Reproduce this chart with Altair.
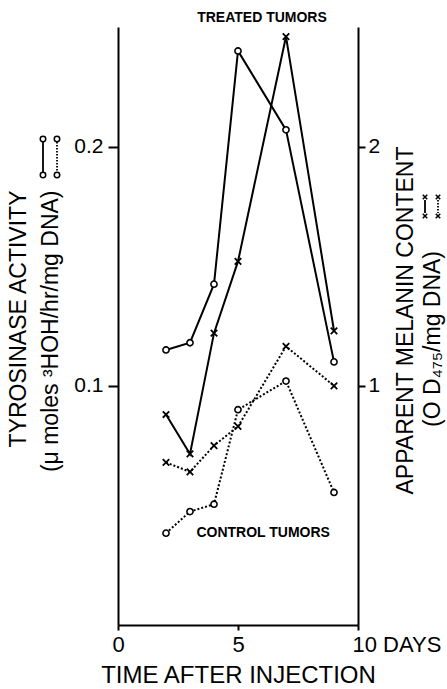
import altair as alt
import pandas as pd

days = [2, 3, 4, 5, 7, 9]
treated_tyrosinase = [0.115, 0.118, 0.1425, 0.240, 0.207, 0.110]
control_tyrosinase = [0.0384, 0.0474, 0.0505, 0.090, 0.102, 0.0554]
treated_melanin = [0.88, 0.715, 1.22, 1.52, 2.46, 1.23]
control_melanin = [0.68, 0.64, 0.75, 0.83, 1.165, 1.0]

x_ticks = [0, 5, 10]
left_ticks = [0.1, 0.2]
right_ticks = [1, 2]

annot_text = ["TREATED TUMORS", "CONTROL TUMORS"]
annot_day = [6.0, 6.05]
annot_val = [0.2536, 0.0385]

FONT = "Liberation Sans"
X_PATH = "M-1,-1L1,1M-1,1L1,-1"

tyr = pd.DataFrame({
    "day": days * 2,
    "value": treated_tyrosinase + control_tyrosinase,
    "group": ["Treated"] * len(days) + ["Control"] * len(days),
})
mel = pd.DataFrame({
    "day": days * 2,
    "value": treated_melanin + control_melanin,
    "group": ["Treated"] * len(days) + ["Control"] * len(days),
})
ann = pd.DataFrame({"day": annot_day, "value": annot_val, "text": annot_text})

xscale = alt.Scale(domain=[0, 10], nice=False)
x_main = alt.X(
    "day:Q", scale=xscale,
    axis=alt.Axis(
        values=x_ticks, title="TIME AFTER INJECTION",
        labelExpr="datum.value == 10 ? '10 DAYS' : datum.label",
        labelAlign={"condition": {"test": "datum.value == 10", "value": "left"}, "value": "center"},
        labelOffset={"condition": {"test": "datum.value == 10", "value": -6}, "value": 0},
        labelFlush=False, labelOverlap=False, labelBound=False,
        tickSize=5, labelPadding=4, labelFontSize=22,
        titleFontSize=24, titleY=57, titleBaseline="alphabetic",
    ),
)

yl_scale = alt.Scale(domain=[0, 0.25], nice=False, zero=True)
y_left = alt.Y(
    "value:Q", scale=yl_scale,
    axis=alt.Axis(
        orient="left", values=left_ticks, format=".1f",
        title=["TYROSINASE ACTIVITY", "(\u03bc moles \u00b3HOH/hr/mg DNA)"],
        titleAngle=270, titleAlign="right", titleBaseline="alphabetic",
        titleX=-93, titleY=163, titleLineHeight=32, titleFontSize=23,
        tickSize=10, labelPadding=5, labelFontSize=21,
    ),
)
y_left_plain = alt.Y("value:Q", scale=yl_scale, axis=None)

yr_scale = alt.Scale(domain=[0, 2.5], nice=False, zero=True)
y_right = alt.Y(
    "value:Q", scale=yr_scale,
    axis=alt.Axis(
        orient="right", values=right_ticks, format="d",
        title="APPARENT MELANIN CONTENT",
        titleAngle=270, titleAlign="center", titleBaseline="alphabetic",
        titleX=54, titleY=293, titleFontSize=23,
        tickSize=7, labelPadding=3, labelFontSize=21,
    ),
)
y_right_plain = alt.Y("value:Q", scale=yr_scale, axis=None)

base_t = alt.Chart(tyr)
tyr_treated_line = base_t.transform_filter("datum.group == 'Treated'").mark_line(
    color="black", strokeWidth=2).encode(x=x_main, y=y_left)
tyr_control_line = base_t.transform_filter("datum.group == 'Control'").mark_line(
    color="black", strokeWidth=2, strokeDash=[2, 2]).encode(x=x_main, y=y_left_plain)
tyr_pts = base_t.mark_point(shape="circle", filled=True, fill="white", stroke="black",
                            strokeWidth=1.6, size=38, opacity=1).encode(x=x_main, y=y_left_plain)
ann_text = alt.Chart(ann).mark_text(font=FONT, fontSize=14, fontWeight="bold", color="black",
                                    align="center", baseline="middle").encode(
    x=x_main, y=y_left_plain, text="text:N")

base_m = alt.Chart(mel)
mel_treated_line = base_m.transform_filter("datum.group == 'Treated'").mark_line(
    color="black", strokeWidth=2).encode(x=x_main, y=y_right)
mel_control_line = base_m.transform_filter("datum.group == 'Control'").mark_line(
    color="black", strokeWidth=2, strokeDash=[2, 2]).encode(x=x_main, y=y_right_plain)
mel_pts = base_m.mark_point(shape=X_PATH, filled=False, stroke="black", strokeWidth=1.8,
                            size=42, opacity=1).encode(x=x_main, y=y_right_plain)

right_title2 = alt.Chart(alt.Data(values=[{"t": "(O D\u2084\u2087\u2085/mg DNA)"}])).mark_text(
    font=FONT, fontSize=23, angle=270, align="center", baseline="alphabetic", color="black"
).encode(x=alt.value(322), y=alt.value(312), text="t:N")

# legend keys beside the axis titles
one = alt.Data(values=[{"k": 1}])
def key(xpix, y0, y1, dashed, marker):
    rule = alt.Chart(one).mark_rule(color="black", strokeWidth=1.8,
                                    strokeDash=[1.5, 1.5] if dashed else [1, 0]).encode(
        x=alt.value(xpix), y=alt.value(y0 + 3), y2=alt.value(y1 - 3))
    parts = [rule]
    for yy in (y0, y1):
        if marker == "circle":
            p = alt.Chart(one).mark_point(shape="circle", filled=True, fill="white", stroke="black",
                                          strokeWidth=1.5, size=30, opacity=1).encode(
                x=alt.value(xpix), y=alt.value(yy))
        else:
            p = alt.Chart(one).mark_point(shape=X_PATH, filled=False, stroke="black",
                                          strokeWidth=1.5, size=20, opacity=1).encode(
                x=alt.value(xpix), y=alt.value(yy))
        parts.append(p)
    return parts

keys = (key(-75, 112, 148, False, "circle") + key(-61, 112, 148, True, "circle")
        + key(307, 170, 189, False, "x") + key(320, 170, 189, True, "x"))

chart = alt.layer(
    tyr_treated_line, tyr_control_line, tyr_pts, ann_text,
    mel_treated_line, mel_control_line, mel_pts, right_title2, *keys
).resolve_scale(y="independent").properties(
    width=240, height=598,
    autosize=alt.AutoSizeParams(type="none"),
    padding={"left": 118, "top": 27, "right": 89, "bottom": 64},
).configure_view(stroke=None).configure_axis(
    labelFont=FONT, titleFont=FONT, labelColor="black", titleColor="black",
    domainColor="black", tickColor="black", domainWidth=2, tickWidth=2,
    grid=False, titleFontWeight="normal",
)

chart.save("out.html", embed_options={"renderer": "svg", "actions": False})
